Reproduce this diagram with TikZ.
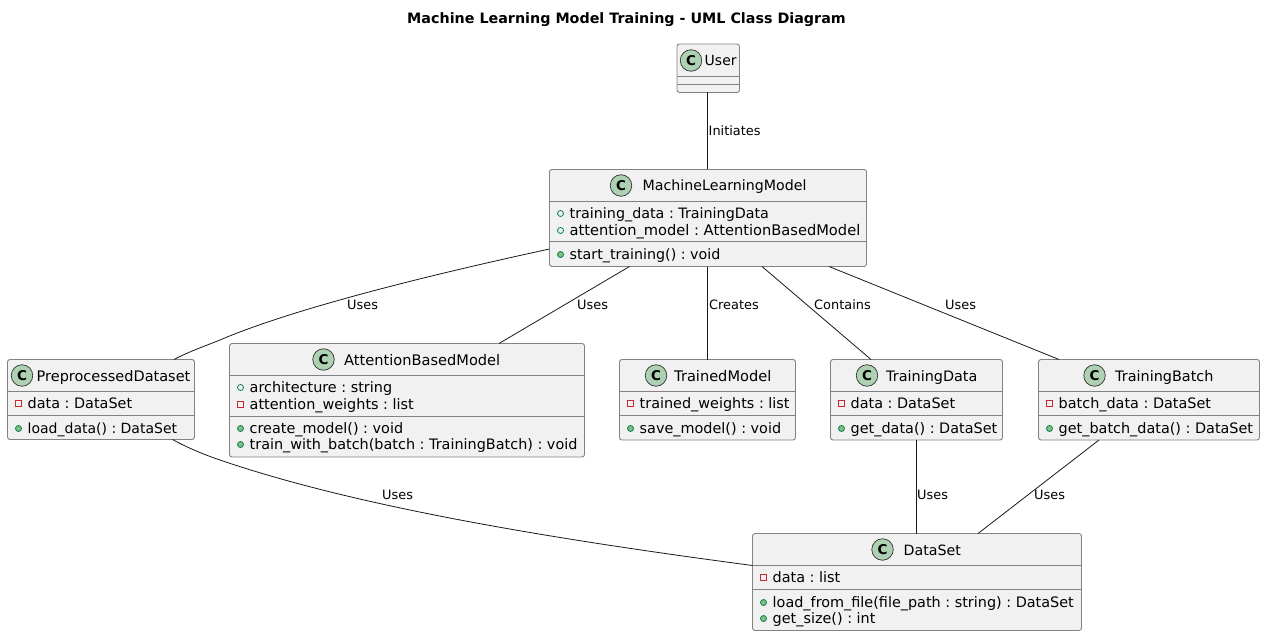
\documentclass[tikz,border=0pt]{standalone}
\usepackage{fontspec}
\setmainfont{DejaVu Sans}
\usetikzlibrary{calc}
\definecolor{boxfill}{HTML}{F1F1F1}
\definecolor{boxline}{HTML}{828282}
\definecolor{spot}{HTML}{ADD1B2}
\definecolor{publine}{HTML}{038048}
\definecolor{pubfill}{HTML}{84BE84}
\definecolor{privline}{HTML}{C82930}
\tikzset{
  umlbox/.style={draw=boxline,fill=boxfill,line width=0.9pt,rounded corners=2.5pt,inner sep=0pt,outer sep=0pt},
  sepline/.style={draw=boxline,line width=0.9pt},
  spotc/.style={circle,draw=black!80,fill=spot,line width=0.7pt,minimum size=21.5pt,inner sep=0pt,font=\fontsize{13.5}{14}\selectfont\bfseries},
  classtext/.style={anchor=base west,inner sep=0pt,font=\frenchspacing\fontsize{#1}{16}\selectfont},
  edgelabel/.style={anchor=base west,inner sep=0pt,font=\fontsize{12.9}{15}\selectfont},
  assoc/.style={draw=black!90,line width=0.8pt},
  titletext/.style={anchor=base,inner sep=0pt,font=\fontsize{14.3}{16}\selectfont\bfseries}
}
\newcounter{tn}
\newcommand{\umlclass}[5]{%
  \pgfmathsetmacro{\bw}{#4-#2}\pgfmathsetmacro{\bh}{#5-#3}%
  \pgfmathsetmacro{\bx}{(#4+#2)/2}\pgfmathsetmacro{\by}{(#5+#3)/2}%
  \node[umlbox,minimum width=\bw pt,minimum height=\bh pt] (#1) at (\bx,\by) {};}
\newcommand{\sepl}[3]{\draw[sepline] (#1,#3) -- (#2,#3);}
% [size] circle x, y, title x, baseline y, text
\newcommand{\umlhead}[6][14.4]{%
  \stepcounter{tn}\node[spotc] (s\arabic{tn}) at (#2,#3) {C};
  \node[classtext=#1] (h\arabic{tn}) at (#4,#5+0.6) {#6};}
\newcommand{\pubfield}[4][14.4]{%
  \draw[publine,line width=0.8pt,fill=none] (#2,#3-4.5) circle (3pt);
  \stepcounter{tn}\node[classtext=#1] (m\arabic{tn}) at (#2+9,#3+0.7) {#4};}
\newcommand{\privfield}[4][14.4]{%
  \draw[privline,line width=0.8pt,fill=none] (#2-3,#3-7.5) rectangle (#2+3,#3-1.5);
  \stepcounter{tn}\node[classtext=#1] (m\arabic{tn}) at (#2+9,#3+0.7) {#4};}
\newcommand{\pubmethod}[4][14.4]{%
  \draw[publine,line width=0.8pt,fill=pubfill] (#2,#3-4.5) circle (3pt);
  \stepcounter{tn}\node[classtext=#1] (m\arabic{tn}) at (#2+9,#3+0.7) {#4};}
\begin{document}
\begin{tikzpicture}[x=1pt,y=-1pt]
\useasboundingbox (0,0) rectangle (1265,636);
\node[titletext] (title) at (626.5,23.5) {Machine Learning Model Training - UML Class Diagram};

% boxes
\umlclass{user}{677}{44}{739.5}{92.5}
\umlclass{ml}{549.5}{169.5}{866.5}{266.5}
\umlclass{pre}{7.5}{359.5}{194.5}{439.5}
\umlclass{att}{229.5}{343.5}{584.5}{457}
\umlclass{tm}{619.5}{359.5}{795.5}{440}
\umlclass{td}{830.5}{359.5}{1002.5}{440}
\umlclass{tb}{1038.5}{359.5}{1259.5}{440}
\umlclass{ds}{752.5}{533.5}{1081.5}{630.5}

% connectors
\draw[assoc] ([xshift=30pt]user.south west) -- ([xshift=157.5pt]ml.north west);
\draw[assoc] ([yshift=17.5pt]ml.south west) .. controls (420,277) and (290,310) .. (220,340) .. controls (205,346) and (188,352) .. ([xshift=166.5pt]pre.north west);
\draw[assoc] ([xshift=80pt]ml.south west) -- ([xshift=269.5pt]att.north west);
\draw[assoc] ([xshift=157.5pt]ml.south west) -- ([xshift=87.5pt]tm.north west);
\draw[assoc] ([xshift=212.5pt]ml.south west) -- ([xshift=40.5pt]td.north west);
\draw[assoc] ([xshift=279.5pt]ml.south west) -- ([xshift=20.5pt]tb.north west);
\draw[assoc] ([xshift=165pt]pre.south west) .. controls (188,448) and (205,455) .. (220,460) .. controls (360,508) and (560,540) .. ([yshift=-32pt]ds.north west);
\draw[assoc] ([xshift=86pt]td.south west) -- ([xshift=164pt]ds.north west);
\draw[assoc] ([xshift=60.5pt]tb.south west) -- ([xshift=225.5pt]ds.north west);

% separators
\sepl{677}{739.5}{76.5}\sepl{677}{739.5}{84.5}
\sepl{549.5}{866.5}{201.5}\sepl{549.5}{866.5}{241.5}
\sepl{7.5}{194.5}{391.5}\sepl{7.5}{194.5}{415.5}
\sepl{229.5}{584.5}{375.5}\sepl{229.5}{584.5}{416.5}
\sepl{619.5}{795.5}{391.5}\sepl{619.5}{795.5}{415.5}
\sepl{830.5}{1002.5}{391.5}\sepl{830.5}{1002.5}{415.5}
\sepl{1038.5}{1259.5}{391.5}\sepl{1038.5}{1259.5}{415.5}
\sepl{752.5}{1081.5}{565.5}\sepl{752.5}{1081.5}{589.5}

% class heads
\umlhead[14]{691}{60.5}{704.5}{65}{User}
\umlhead[14.2]{621}{185.5}{642.5}{190}{MachineLearningModel}
\umlhead[14.5]{22}{375.5}{36.5}{381}{PreprocessedDataset}
\umlhead[14.6]{323.5}{359.5}{344}{365}{AttentionBasedModel}
\umlhead[14.6]{656}{375.5}{674}{381}{TrainedModel}
\umlhead[14.4]{867}{375.5}{886}{381}{TrainingData}
\umlhead[14.4]{1094.5}{375.5}{1115}{381}{TrainingBatch}
\umlhead[14.2]{882.5}{549.5}{903.5}{555}{DataSet}

% members
\pubfield[14.3]{560.5}{218}{training\_data : TrainingData}
\pubfield[14.65]{560.5}{235}{attention\_model : AttentionBasedModel}
\pubmethod[14.25]{560.5}{259}{start\_training() : void}
\privfield{18.5}{408}{data : DataSet}
\pubmethod[14.0]{18.5}{433}{load\_data() : DataSet}
\pubfield{240.5}{392}{architecture : string}
\privfield{240.5}{409}{attention\_weights : list}
\pubmethod{240.5}{433}{create\_model() : void}
\pubmethod{240.5}{449}{train\_with\_batch(batch : TrainingBatch) : void}
\privfield{630.5}{408}{trained\_weights : list}
\pubmethod{630.5}{433}{save\_model() : void}
\privfield{841.5}{408}{data : DataSet}
\pubmethod{841.5}{433}{get\_data() : DataSet}
\privfield{1049.5}{408}{batch\_data : DataSet}
\pubmethod{1049.5}{433}{get\_batch\_data() : DataSet}
\privfield{763.5}{582}{data : list}
\pubmethod{763.5}{607}{load\_from\_file(file\_path : string) : DataSet}
\pubmethod{763.5}{623}{get\_size() : int}

% edge labels
\node[edgelabel] (l1) at (708.5,135.5) {Initiates};
\node[edgelabel] (l2) at (347,309) {Uses};
\node[edgelabel] (l3) at (577,309) {Uses};
\node[edgelabel] (l4) at (709,309) {Creates};
\node[edgelabel] (l5) at (814,309) {Contains};
\node[edgelabel] (l6) at (945,309) {Uses};
\node[edgelabel] (l7) at (382,499) {Uses};
\node[edgelabel] (l8) at (917,499) {Uses};
\node[edgelabel] (l9) at (1034,499) {Uses};
\end{tikzpicture}
\end{document}
